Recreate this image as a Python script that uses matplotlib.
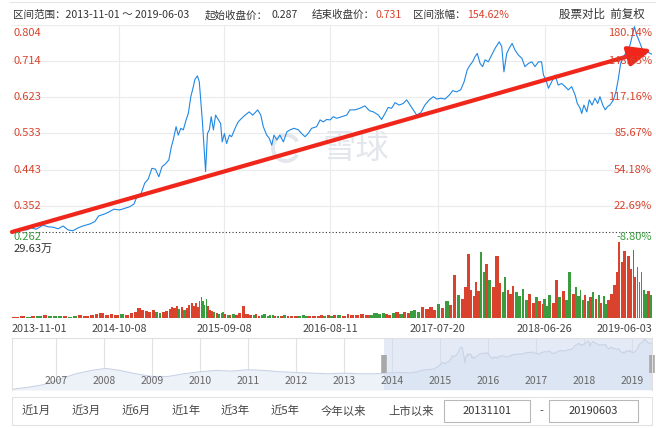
import matplotlib
matplotlib.use("Agg")
import matplotlib.pyplot as plt
import matplotlib.patches as mpatches
import numpy as np
import pandas as pd

plt.rcParams['font.family'] = ['Noto Sans CJK SC', 'DejaVu Sans']

START = "2013-11-01"
END = "2019-06-03"
START_PRICE = 0.287
END_PRICE = 0.731
TREND_END = 0.743   # where the hand-drawn arrow ends

# days after START, price (forward adjusted), volume in 万
price_days = [0, 25, 46, 62, 77, 99, 115, 131, 147, 163,
              179, 194, 210, 226, 248, 264, 276, 295, 311, 325,
              343, 359, 375, 389, 399, 412, 423, 434, 446, 457,
              468, 478, 489, 500, 508, 514, 523, 530, 538, 546,
              555, 562, 570, 578, 583, 591, 597, 601, 607, 612,
              617, 623, 629, 635, 642, 649, 658, 665, 670, 677,
              684, 693, 700, 711, 721, 732, 743, 756, 767, 775,
              783, 793, 801, 812, 820, 828, 835, 844, 854, 865,
              876, 886, 899, 913, 923, 934, 944, 955, 971, 982,
              992, 1003, 1014, 1024, 1035, 1051, 1067, 1077, 1093, 1109,
              1125, 1139, 1152, 1168, 1178, 1189, 1199, 1210, 1221, 1234,
              1247, 1258, 1269, 1279, 1290, 1303, 1316, 1330, 1343, 1354,
              1366, 1380, 1394, 1405, 1417, 1430, 1441, 1451, 1460, 1468,
              1476, 1483, 1492, 1500, 1508, 1518, 1529, 1540, 1553, 1561,
              1568, 1577, 1585, 1594, 1603, 1614, 1625, 1635, 1646, 1657,
              1667, 1678, 1688, 1694, 1702, 1710, 1720, 1731, 1741, 1752,
              1763, 1773, 1784, 1795, 1802, 1811, 1816, 1823, 1832, 1840,
              1849, 1858, 1867, 1874, 1883, 1891, 1898, 1906, 1917, 1925,
              1933, 1940, 1949, 1959, 1970, 1979, 1984, 1991, 1998, 2004,
              2010, 2018, 2025, 2034, 2040]
price_vals = [0.287, 0.294, 0.292, 0.297, 0.294, 0.304, 0.300, 0.299, 0.295, 0.302,
              0.292, 0.290, 0.297, 0.302, 0.307, 0.313, 0.327, 0.332, 0.338, 0.344,
              0.342, 0.346, 0.350, 0.357, 0.377, 0.384, 0.409, 0.419, 0.446, 0.444,
              0.425, 0.450, 0.457, 0.467, 0.500, 0.517, 0.550, 0.529, 0.546, 0.542,
              0.567, 0.583, 0.625, 0.650, 0.668, 0.677, 0.662, 0.621, 0.562, 0.500,
              0.438, 0.533, 0.542, 0.575, 0.542, 0.579, 0.567, 0.558, 0.512, 0.533,
              0.508, 0.529, 0.525, 0.546, 0.562, 0.571, 0.579, 0.587, 0.579, 0.585,
              0.592, 0.579, 0.550, 0.529, 0.521, 0.504, 0.529, 0.517, 0.529, 0.512,
              0.537, 0.542, 0.546, 0.542, 0.533, 0.525, 0.533, 0.546, 0.550, 0.567,
              0.562, 0.568, 0.567, 0.575, 0.571, 0.575, 0.579, 0.592, 0.592, 0.596,
              0.602, 0.590, 0.587, 0.579, 0.568, 0.583, 0.598, 0.596, 0.610, 0.604,
              0.608, 0.617, 0.604, 0.592, 0.579, 0.585, 0.604, 0.617, 0.625, 0.619,
              0.621, 0.619, 0.629, 0.640, 0.637, 0.642, 0.662, 0.692, 0.704, 0.712,
              0.725, 0.733, 0.708, 0.700, 0.717, 0.712, 0.729, 0.746, 0.762, 0.750,
              0.687, 0.733, 0.746, 0.758, 0.742, 0.729, 0.721, 0.700, 0.708, 0.712,
              0.700, 0.712, 0.712, 0.679, 0.667, 0.646, 0.662, 0.679, 0.654, 0.658,
              0.650, 0.642, 0.650, 0.629, 0.608, 0.596, 0.583, 0.604, 0.587, 0.617,
              0.604, 0.621, 0.608, 0.625, 0.604, 0.592, 0.600, 0.604, 0.617, 0.637,
              0.671, 0.708, 0.725, 0.737, 0.754, 0.783, 0.800, 0.779, 0.766, 0.754,
              0.741, 0.729, 0.737, 0.733, 0.731]
volume_wan = [0.4, 0.6, 0.5, 0.8, 0.6, 1.0, 0.7, 0.9, 0.6, 0.8,
              0.5, 0.7, 1.2, 0.8, 1.0, 1.5, 1.8, 1.2, 1.4, 1.0,
              1.6, 1.3, 2.0, 2.5, 4.0, 3.2, 2.6, 2.2, 3.0, 2.4,
              1.8, 2.4, 2.8, 3.5, 4.2, 3.8, 4.8, 3.6, 4.2, 3.0,
              4.0, 5.2, 5.8, 4.5, 6.0, 4.4, 6.5, 8.0, 6.8, 5.2,
              7.5, 4.6, 3.2, 2.8, 2.4, 2.0, 1.6, 1.8, 2.2, 1.4,
              1.2, 1.0, 1.5, 1.3, 1.8, 4.5, 1.6, 1.2, 1.0, 1.4,
              0.8, 1.2, 1.5, 0.9, 1.0, 1.3, 0.8, 0.7, 0.9, 1.1,
              0.8, 0.6, 0.9, 0.7, 1.0, 0.8, 0.6, 0.9, 0.7, 1.2,
              0.8, 1.0, 0.9, 1.3, 1.1, 0.8, 1.4, 1.2, 1.0, 1.6,
              1.3, 1.1, 1.8, 1.4, 2.0, 1.5, 1.2, 1.9, 2.4, 1.6,
              2.2, 1.8, 2.6, 3.0, 2.2, 4.2, 3.4, 4.4, 3.2, 5.5,
              4.0, 6.5, 5.2, 16.8, 9.0, 7.5, 12.0, 25.0, 11.0, 8.5,
              14.0, 10.5, 25.8, 18.0, 21.0, 15.0, 12.0, 24.0, 13.5, 10.0,
              16.0, 11.0, 9.5, 12.5, 10.0, 8.5, 11.5, 7.0, 9.5, 6.0,
              8.0, 6.5, 5.5, 7.5, 4.5, 9.0, 6.0, 15.0, 8.0, 10.5,
              7.0, 18.0, 9.5, 12.0, 8.5, 11.0, 7.0, 9.0, 6.5, 8.0,
              10.0, 7.5, 9.0, 6.0, 8.5, 5.5, 7.0, 9.5, 13.0, 18.0,
              29.63, 22.0, 26.0, 24.0, 19.0, 26.5, 16.0, 20.0, 14.0, 18.0,
              11.0, 9.5, 10.5, 9.0, 8.0]
VOL_MAX = 29.63

price_ticks = [0.804, 0.714, 0.623, 0.533, 0.443, 0.352, 0.262]
pct_labels = ["180.14%", "148.65%", "117.16%", "85.67%", "54.18%", "22.69%", "-8.80%"]
date_ticks = ["2013-11-01", "2014-10-08", "2015-09-08", "2016-08-11",
              "2017-07-20", "2018-06-26", "2019-06-03"]

# navigator history before the selected range
nav_hist_dates = ["2006-02-01", "2006-06-01", "2006-10-01", "2007-02-01", "2007-06-01",
                  "2007-10-01", "2008-01-15", "2008-05-01", "2008-09-01", "2009-01-01",
                  "2009-05-01", "2009-09-01", "2010-01-01", "2010-05-01", "2010-09-01",
                  "2011-01-01", "2011-05-01", "2011-09-01", "2012-01-01", "2012-05-01",
                  "2012-09-01", "2013-01-01", "2013-05-01", "2013-09-01"]
nav_hist_vals = [0.05, 0.08, 0.12, 0.20, 0.28, 0.33, 0.36, 0.33, 0.28, 0.24,
                 0.24, 0.28, 0.31, 0.33, 0.32, 0.34, 0.33, 0.31, 0.30, 0.29,
                 0.28, 0.29, 0.28, 0.28]
nav_years = list(range(2007, 2020))
buttons = ["近1月", "近3月", "近6月", "近1年", "近3年", "近5年", "今年以来", "上市以来"]

RED = "#d9432e"
GREEN = "#3a9b3f"
GRID = "#ebebeb"

W, H = 656, 428


def box(x, y, w, h):
    return [x / W, 1 - (y + h) / H, w / W, h / H]


t0 = pd.Timestamp(START)
t1 = pd.Timestamp(END)
dates = t0 + pd.to_timedelta(price_days, unit="D")
tick_dates = pd.to_datetime(date_ticks)

fig = plt.figure(figsize=(W / 100, H / 100), dpi=100)
fig.patch.set_facecolor("white")

# overlay in pixel coordinates for page furniture
ov = fig.add_axes([0, 0, 1, 1], zorder=5)
ov.set_xlim(0, W)
ov.set_ylim(H, 0)
ov.axis("off")
ov.patch.set_visible(False)

# --- price panel ---
ax = fig.add_axes(box(12, 25, 640, 217))
ax.set_xlim(t0, t1)
ax.set_ylim(0.262, 0.804)
for s in ax.spines.values():
    s.set_visible(False)
ax.set_xticks([])
ax.set_yticks([])
for p in price_ticks:
    ax.axhline(p, color=GRID, lw=0.8, zorder=0)
for d in tick_dates[1:-1]:
    ax.axvline(d, color=GRID, lw=0.8, zorder=0)

# watermark
ax.text(356, 148, "雪球", transform=ov.transData, fontsize=24, color="#e3e6eb",
        ha="center", va="center", zorder=0.5)
ax.add_patch(mpatches.Arc((286, 148), 26, 26, theta1=30, theta2=330, lw=2.8,
                          color="#e3e6eb", transform=ov.transData, zorder=0.5))

ax.axhline(START_PRICE, color="#333333", lw=0.8, ls=(0, (1, 2)), zorder=1)
ax.plot(dates, price_vals, color="#1f88e5", lw=0.8, zorder=2)

ax.annotate("", xy=(t1, TREND_END), xytext=(t0, START_PRICE),
            arrowprops=dict(arrowstyle="-|>,head_length=0.7,head_width=0.3",
                            color="#f0261b", lw=3, mutation_scale=20,
                            shrinkA=0, shrinkB=0),
            annotation_clip=False, zorder=3)

ytr = ax.get_yaxis_transform()
n = len(price_ticks)
for i, (p, pct) in enumerate(zip(price_ticks, pct_labels)):
    va = "top" if i == 0 else ("bottom" if i == n - 1 else "center")
    col = GREEN if i == n - 1 else RED
    dy = -2 if i == 0 else 0
    ax.annotate(f"{p:.3f}", (0.002, p), xycoords=ytr, xytext=(0, dy),
                textcoords="offset points", ha="left", va=va,
                color=col, fontsize=8, zorder=4)
    ax.annotate(pct, (1.0, p), xycoords=ytr, xytext=(0, dy),
                textcoords="offset points", ha="right", va=va,
                color=col, fontsize=8, zorder=4)

# --- volume panel ---
axv = fig.add_axes(box(12, 242, 640, 76))
axv.set_xlim(t0, t1)
axv.set_ylim(0, VOL_MAX)
for s in axv.spines.values():
    s.set_visible(False)
axv.set_yticks([])
for d in tick_dates[1:-1]:
    axv.axvline(d, color=GRID, lw=0.8, zorder=0)
gaps = np.append(np.diff(price_days), 6)
vcolors = [RED if i == 0 or price_vals[i] >= price_vals[i - 1] else GREEN
           for i in range(len(price_vals))]
axv.bar(dates, volume_wan, width=gaps * 0.85, align="edge", color=vcolors,
        linewidth=0, zorder=2)
axv.text(0.002, 0.97, f"{VOL_MAX}万", transform=axv.transAxes, ha="left",
         va="top", fontsize=8, color="#333333")
axv.set_xticks(tick_dates)
axv.set_xticklabels(date_ticks)
axv.tick_params(axis="x", length=0, pad=4, labelsize=7.8, labelcolor="#444444")
labs = axv.get_xticklabels()
labs[0].set_ha("left")
labs[-1].set_ha("right")

# --- navigator ---
axn = fig.add_axes(box(12, 338, 640, 52))
nav_dates = list(pd.to_datetime(nav_hist_dates)) + list(dates)
nav_vals = nav_hist_vals + price_vals
axn.set_xlim(pd.Timestamp("2006-02-01"), t1)
axn.set_ylim(0.04, 0.81)
axn.fill_between(nav_dates, nav_vals, 0.04, color="#edf1f8", lw=0)
axn.plot(nav_dates, nav_vals, color="#c8d3e5", lw=0.8)
for yr in nav_years:
    yd = pd.Timestamp(f"{yr}-01-01")
    axn.axvline(yd, color="#e2e2e2", lw=0.8, zorder=0.5)
    axn.text(yd, 0.17, str(yr), transform=axn.get_xaxis_transform(),
             ha="center", va="center", fontsize=7.5, color="#666666")
axn.axvspan(t0, t1, color="#cfdcf0", alpha=0.55, lw=0)
xtr = axn.get_xaxis_transform()
axn.plot([t0, t0], [0.32, 0.68], transform=xtr, color="#a8a8a8", lw=4,
         solid_capstyle="butt", clip_on=False)
axn.plot([t1, t1], [0.32, 0.68], transform=xtr, color="#a8a8a8", lw=4,
         solid_capstyle="butt", clip_on=False)
axn.set_xticks([])
axn.set_yticks([])
for s in axn.spines.values():
    s.set_color("#e0e0e0")
    s.set_linewidth(0.8)
axn.spines["bottom"].set_visible(False)

# --- header ---
ov.plot([10, W], [2, 2], color="#e6e6e6", lw=0.8)
hy = 15
ov.text(13, hy, "区间范围：2013-11-01 ～ 2019-06-03", fontsize=7.6,
        color="#333333", va="center")
ov.text(205, hy, "起始收盘价：", fontsize=7.6, color="#333333", va="center")
ov.text(271, hy, f"{START_PRICE}", fontsize=7.6, color="#333333", va="center")
ov.text(312, hy, "结束收盘价：", fontsize=7.6, color="#333333", va="center")
ov.text(375, hy, f"{END_PRICE}", fontsize=7.6, color=RED, va="center")
ov.text(413, hy, "区间涨幅：", fontsize=7.6, color="#333333", va="center")
ov.text(467, hy, "154.62%", fontsize=7.6, color=RED, va="center")
ov.text(645, hy - 1, "股票对比  前复权", fontsize=8.3, color="#333333",
        va="center", ha="right")

# --- range buttons ---
ov.add_patch(mpatches.Rectangle((12, 397), 640, 28, fill=False,
                                edgecolor="#e2e2e2", lw=0.8))
btn_x = [36, 86, 136, 186, 235, 285, 343, 411]
for bx, label in zip(btn_x, buttons):
    ov.text(bx, 411, label, fontsize=8.2, color="#444444", ha="center", va="center")
ov.add_patch(mpatches.Rectangle((444, 400), 86, 22, fill=False,
                                edgecolor="#b8b8b8", lw=0.8))
ov.text(487, 411, START.replace("-", ""), fontsize=8, color="#333333",
        ha="center", va="center")
ov.text(541, 411, "-", fontsize=8, color="#444444", ha="center", va="center")
ov.add_patch(mpatches.Rectangle((549, 400), 89, 22, fill=False,
                                edgecolor="#b8b8b8", lw=0.8))
ov.text(593, 411, END.replace("-", ""), fontsize=8, color="#333333",
        ha="center", va="center")

fig.savefig("out.png", dpi=100)
